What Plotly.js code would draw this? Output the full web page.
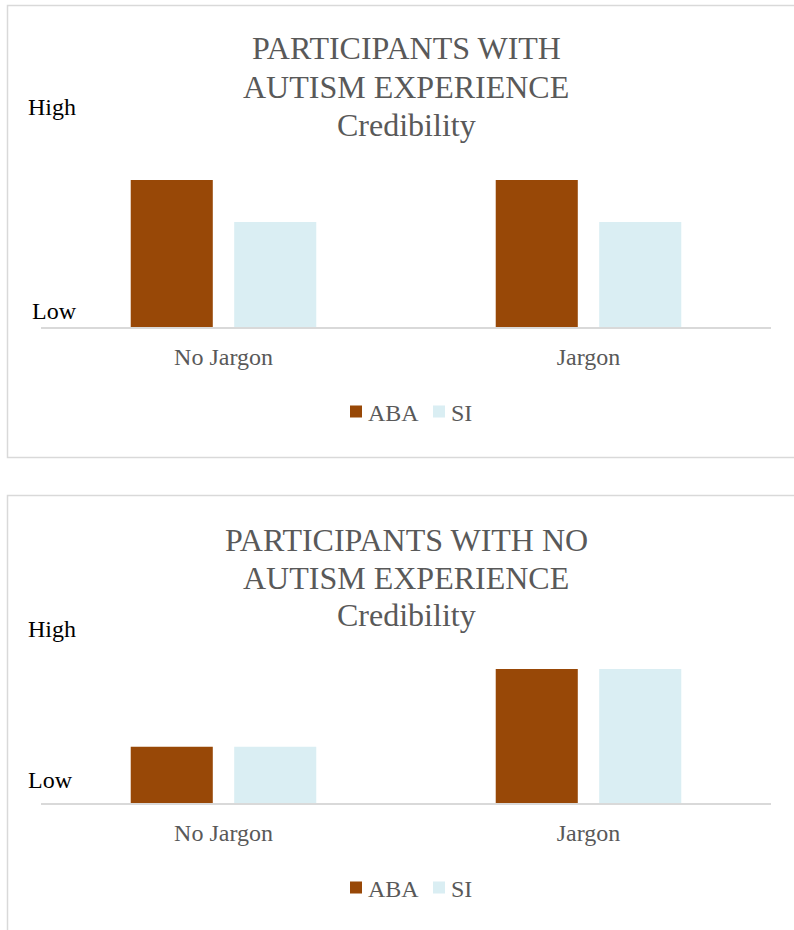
<!DOCTYPE html>
<html>
<head>
<meta charset="utf-8">
<script src="https://cdn.plot.ly/plotly-3.0.1.min.js"></script>
<style>
  html, body { margin: 0; padding: 0; background: #ffffff; overflow: hidden; }
  #chart { width: 794px; height: 930px; }
  /* pull each legend label closer to its swatch */
  #chart .legendtext, #chart .legend2text { transform: translate(-8px, 0); }
</style>
</head>
<body>
<div id="chart"></div>
<script>
// Credibility ratings by jargon condition, for the two participant groups
const categories = ['No Jargon', 'Jargon'];
const seriesNames = ['ABA', 'SI'];
const seriesColors = ['#984807', '#DAEEF3'];

// Participants with autism experience
const expABA = [3.5, 3.5];
const expSI = [2.5, 2.5];

// Participants with no autism experience
const noExpABA = [1.34, 3.19];
const noExpSI = [1.34, 3.19];

const scaleLabels = ['High', 'Low'];
const titleTop = ['PARTICIPANTS WITH', 'AUTISM EXPERIENCE', 'Credibility'];
const titleBottom = ['PARTICIPANTS WITH NO', 'AUTISM EXPERIENCE', 'Credibility'];

const W = 794, H = 930;
const FONT = '"Liberation Serif", "Times New Roman", serif';
const GREY = '#595959';
const RULE = '#D9D9D9';

// pixel -> paper helpers for the page layout
const fx = x => x / W;
const fy = y => 1 - y / H;

function bar(name, values, color, xa, ya, legend) {
  return {
    type: 'bar', name: name, x: categories, y: values,
    xaxis: xa, yaxis: ya, legend: legend, showlegend: true,
    marker: { color: color, line: { width: 0 } },
    hoverinfo: 'x+y+name'
  };
}

const traces = [
  bar(seriesNames[0], expABA, seriesColors[0], 'x', 'y', 'legend'),
  bar(seriesNames[1], expSI, seriesColors[1], 'x', 'y', 'legend'),
  bar(seriesNames[0], noExpABA, seriesColors[0], 'x2', 'y2', 'legend2'),
  bar(seriesNames[1], noExpSI, seriesColors[1], 'x2', 'y2', 'legend2')
];

function xAxis(anchor) {
  return {
    anchor: anchor, domain: [fx(41), fx(771)],
    range: [-0.5, 1.5], type: 'category',
    showgrid: false, zeroline: false,
    showline: true, linecolor: RULE, linewidth: 1.5,
    ticks: '', ticklabelstandoff: 8,
    tickfont: { family: FONT, size: 24, color: GREY },
    fixedrange: true
  };
}
function yAxis(anchor, bottomPx) {
  return {
    anchor: anchor, domain: [fy(bottomPx), fy(bottomPx - 210)],
    range: [0, 5], visible: false, showgrid: false, zeroline: false,
    fixedrange: true
  };
}

function titleLines(lines, centers) {
  return lines.map((t, i) => ({
    text: t, xref: 'paper', yref: 'paper',
    x: fx(406), y: fy(centers[i]), xanchor: 'center', yanchor: 'middle',
    showarrow: false, font: { family: FONT, size: 32, color: GREY }
  }));
}
function scaleNote(text, xPx, yPx) {
  return {
    text: text, xref: 'paper', yref: 'paper',
    x: fx(xPx), y: fy(yPx), xanchor: 'left', yanchor: 'middle',
    showarrow: false, font: { family: FONT, size: 24, color: '#000000' }
  };
}

const legendStyle = (yPx) => ({
  orientation: 'h', xanchor: 'left', x: fx(336),
  yanchor: 'middle', y: fy(yPx), traceorder: 'normal',
  font: { family: FONT, size: 24, color: GREY },
  itemwidth: 30, entrywidth: 38, entrywidthmode: 'pixels',
  bgcolor: 'rgba(0,0,0,0)'
});

const layout = {
  width: W, height: H,
  margin: { l: 0, r: 0, t: 0, b: 0 },
  paper_bgcolor: '#ffffff', plot_bgcolor: '#ffffff',
  barmode: 'group', bargap: 0.433, bargroupgap: 0.207,
  xaxis: xAxis('y'), yaxis: yAxis('x', 327),
  xaxis2: xAxis('y2'), yaxis2: yAxis('x2', 803),
  legend: legendStyle(412),
  legend2: legendStyle(888),
  annotations: [].concat(
    titleLines(titleTop, [48, 87, 125]),
    titleLines(titleBottom, [540, 578, 615]),
    [scaleNote(scaleLabels[0], 26, 107), scaleNote(scaleLabels[1], 30, 311),
     scaleNote(scaleLabels[0], 26, 629), scaleNote(scaleLabels[1], 26, 780)]
  ),
  shapes: [
    { type: 'rect', xref: 'paper', yref: 'paper', x0: fx(7.5), x1: 1.02, y0: fy(457.5), y1: fy(5.5),
      line: { color: RULE, width: 1.5 }, fillcolor: 'rgba(0,0,0,0)', layer: 'below' },
    { type: 'rect', xref: 'paper', yref: 'paper', x0: fx(7.5), x1: 1.02, y0: -0.02, y1: fy(495.5),
      line: { color: RULE, width: 1.5 }, fillcolor: 'rgba(0,0,0,0)', layer: 'below' }
  ],
  showlegend: true
};

Plotly.newPlot('chart', traces, layout, { displayModeBar: false, staticPlot: true });
</script>
</body>
</html>
